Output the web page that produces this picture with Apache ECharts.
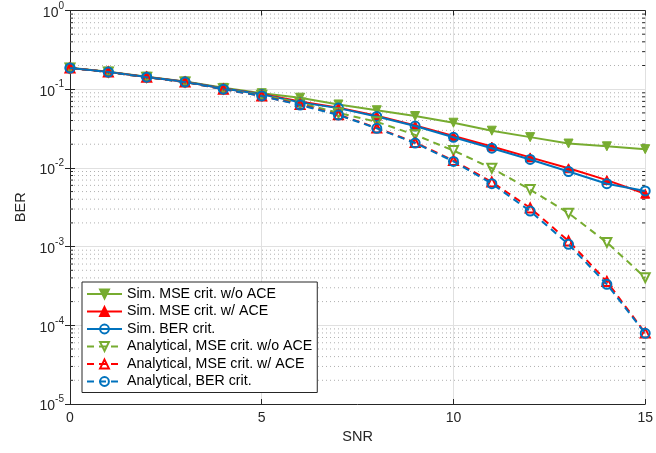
<!DOCTYPE html>
<html>
<head>
<meta charset="utf-8">
<script src="https://cdn.jsdelivr.net/npm/echarts@6/dist/echarts.min.js"></script>
<style>html,body{margin:0;padding:0;background:#fff;}#c{width:656px;height:453px;}</style>
</head>
<body>
<div id="c"></div>
<script>
const snr = [0,1,2,3,4,5,6,7,8,9,10,11,12,13,14,15];
const simMseNoAce = [0.187,0.167,0.144,0.125,0.104,0.089,0.078,0.064,0.054,0.0456,0.0375,0.0297,0.0246,0.0204,0.0188,0.0173];
const simMseAce   = [0.186,0.166,0.143,0.124,0.102,0.087,0.070,0.058,0.046,0.0345,0.0254,0.0187,0.0136,0.0099,0.0070,0.0047];
const simBer      = [0.186,0.166,0.143,0.124,0.102,0.086,0.068,0.0575,0.0450,0.034,0.0245,0.0178,0.0128,0.0090,0.0063,0.0051];
const anaMseNoAce = [0.186,0.165,0.142,0.123,0.101,0.084,0.067,0.050,0.0385,0.0263,0.0166,0.0099,0.0053,0.00266,0.00113,0.000403];
const anaMseAce   = [0.186,0.165,0.142,0.123,0.100,0.082,0.064,0.0475,0.0322,0.021,0.0124,0.0066,0.0031,0.00118,0.00036,0.000080];
const anaBer      = [0.186,0.165,0.142,0.123,0.100,0.082,0.063,0.047,0.0318,0.0207,0.0121,0.0063,0.00283,0.00107,0.000332,0.000079];
const names = ['Sim. MSE crit. w/o ACE','Sim. MSE crit. w/ ACE','Sim. BER crit.','Analytical, MSE crit. w/o ACE','Analytical, MSE crit. w/ ACE','Analytical, BER crit.'];
const xTicks = [0,5,10,15];
const yDecades = [-5,-4,-3,-2,-1,0];

const GREEN='#77AC30', RED='#FF0000', BLUE='#0072BD';
const minorVals = [];
for (let d=-5; d<0; d++) for (let m=2; m<=9; m++) minorVals.push([0, m*Math.pow(10,d)]);

function pairs(arr){ return arr.map((v,i)=>[snr[i], v]); }

function mkSeries(name, data, color, symbol, rotate, filled, dashed, z){
  return {
    name, type:'line', data: pairs(data), z,
    symbol, symbolSize: 9, symbolRotate: rotate,
    showSymbol:true,
    lineStyle:{color, width:2, type: dashed ? [7,5] : 'solid'},
    itemStyle: filled ? {color, borderColor:color, borderWidth:1} : {color:'rgba(255,255,255,0)', borderColor:color, borderWidth:2},
    color,
    emphasis:{disabled:true}, animation:false
  };
}

const chart = echarts.init(document.getElementById('c'));
const txt = '#262626';
chart.setOption({
  animation:false,
  grid:{left:70, right:8, top:10.5, bottom:49, containLabel:false},
  legend:{
    orient:'vertical', left:82, top:282,
    backgroundColor:'#fff', borderColor:'#262626', borderWidth:1,
    padding:[4,5,3,4], itemGap:1.5, itemWidth:35, itemHeight:11,
    textStyle:{fontFamily:'Liberation Sans', fontSize:14.2, color:'#000', lineHeight:16},
    data:names
  },
  xAxis:[{
    type:'value', min:0, max:15, interval:5,
    name:'SNR', nameLocation:'middle', nameGap:25,
    nameTextStyle:{fontFamily:'Liberation Sans', fontSize:14.5, color:txt},
    axisLine:{show:true, lineStyle:{color:txt, width:1}},
    axisTick:{show:true, inside:true, length:5, lineStyle:{color:txt}},
    axisLabel:{fontFamily:'Liberation Sans', fontSize:14, color:txt, margin:7},
    splitLine:{show:true, lineStyle:{color:'#e0e0e0', width:1}}
  },{
    type:'value', min:0, max:15, interval:5, position:'top',
    axisLine:{show:true, lineStyle:{color:txt, width:1}},
    axisTick:{show:true, inside:true, length:5, lineStyle:{color:txt}},
    axisLabel:{show:false}, splitLine:{show:false}
  }],
  yAxis:[{
    type:'log', logBase:10, min:1e-5, max:1,
    name:'BER', nameLocation:'middle', nameGap:40,
    nameTextStyle:{fontFamily:'Liberation Sans', fontSize:14.5, color:txt},
    axisLine:{show:true, lineStyle:{color:txt, width:1}},
    axisTick:{show:true, inside:true, length:5, lineStyle:{color:txt}},
    axisLabel:{
      margin:6,
      formatter:function(v){ const e=Math.round(Math.log10(v)); return '{b|10}{s|'+e+'}'; },
      rich:{
        b:{fontFamily:'Liberation Sans', fontSize:14, color:txt, verticalAlign:'bottom', lineHeight:19},
        s:{fontFamily:'Liberation Sans', fontSize:10, color:txt, verticalAlign:'top', lineHeight:19}
      }
    },
    splitLine:{show:true, lineStyle:{color:'#e0e0e0', width:1}}
  },{
    type:'log', logBase:10, min:1e-5, max:1, position:'right',
    axisLine:{show:true, lineStyle:{color:txt, width:1}},
    axisTick:{show:true, inside:true, length:5, lineStyle:{color:txt}},
    axisLabel:{show:false}, splitLine:{show:false}
  }],
  series:[
    {
      type:'custom', z:1, silent:true, data:minorVals, encode:{x:0,y:1},
      renderItem:function(params, api){
        const v = api.value(1);
        const p0 = api.coord([0, v]);
        const p1 = api.coord([15, v]);
        return {type:'group', children:[
          {type:'line', shape:{x1:p0[0], y1:p0[1], x2:p1[0], y2:p1[1]}, style:{stroke:'#b0b0b0', lineWidth:1, lineDash:[1,3]}},
          {type:'line', shape:{x1:p0[0], y1:p0[1], x2:p0[0]+3, y2:p0[1]}, style:{stroke:txt, lineWidth:1}},
          {type:'line', shape:{x1:p1[0]-3, y1:p1[1], x2:p1[0], y2:p1[1]}, style:{stroke:txt, lineWidth:1}}
        ]};
      }
    },
    mkSeries(names[0], simMseNoAce, GREEN, 'triangle', 180, true, false, 3),
    mkSeries(names[1], simMseAce, RED, 'triangle', 0, true, false, 4),
    mkSeries(names[2], simBer, BLUE, 'circle', 0, false, false, 5),
    mkSeries(names[3], anaMseNoAce, GREEN, 'triangle', 180, false, true, 6),
    mkSeries(names[4], anaMseAce, RED, 'triangle', 0, false, true, 7),
    mkSeries(names[5], anaBer, BLUE, 'circle', 0, false, true, 8)
  ]
});
</script>
</body>
</html>
